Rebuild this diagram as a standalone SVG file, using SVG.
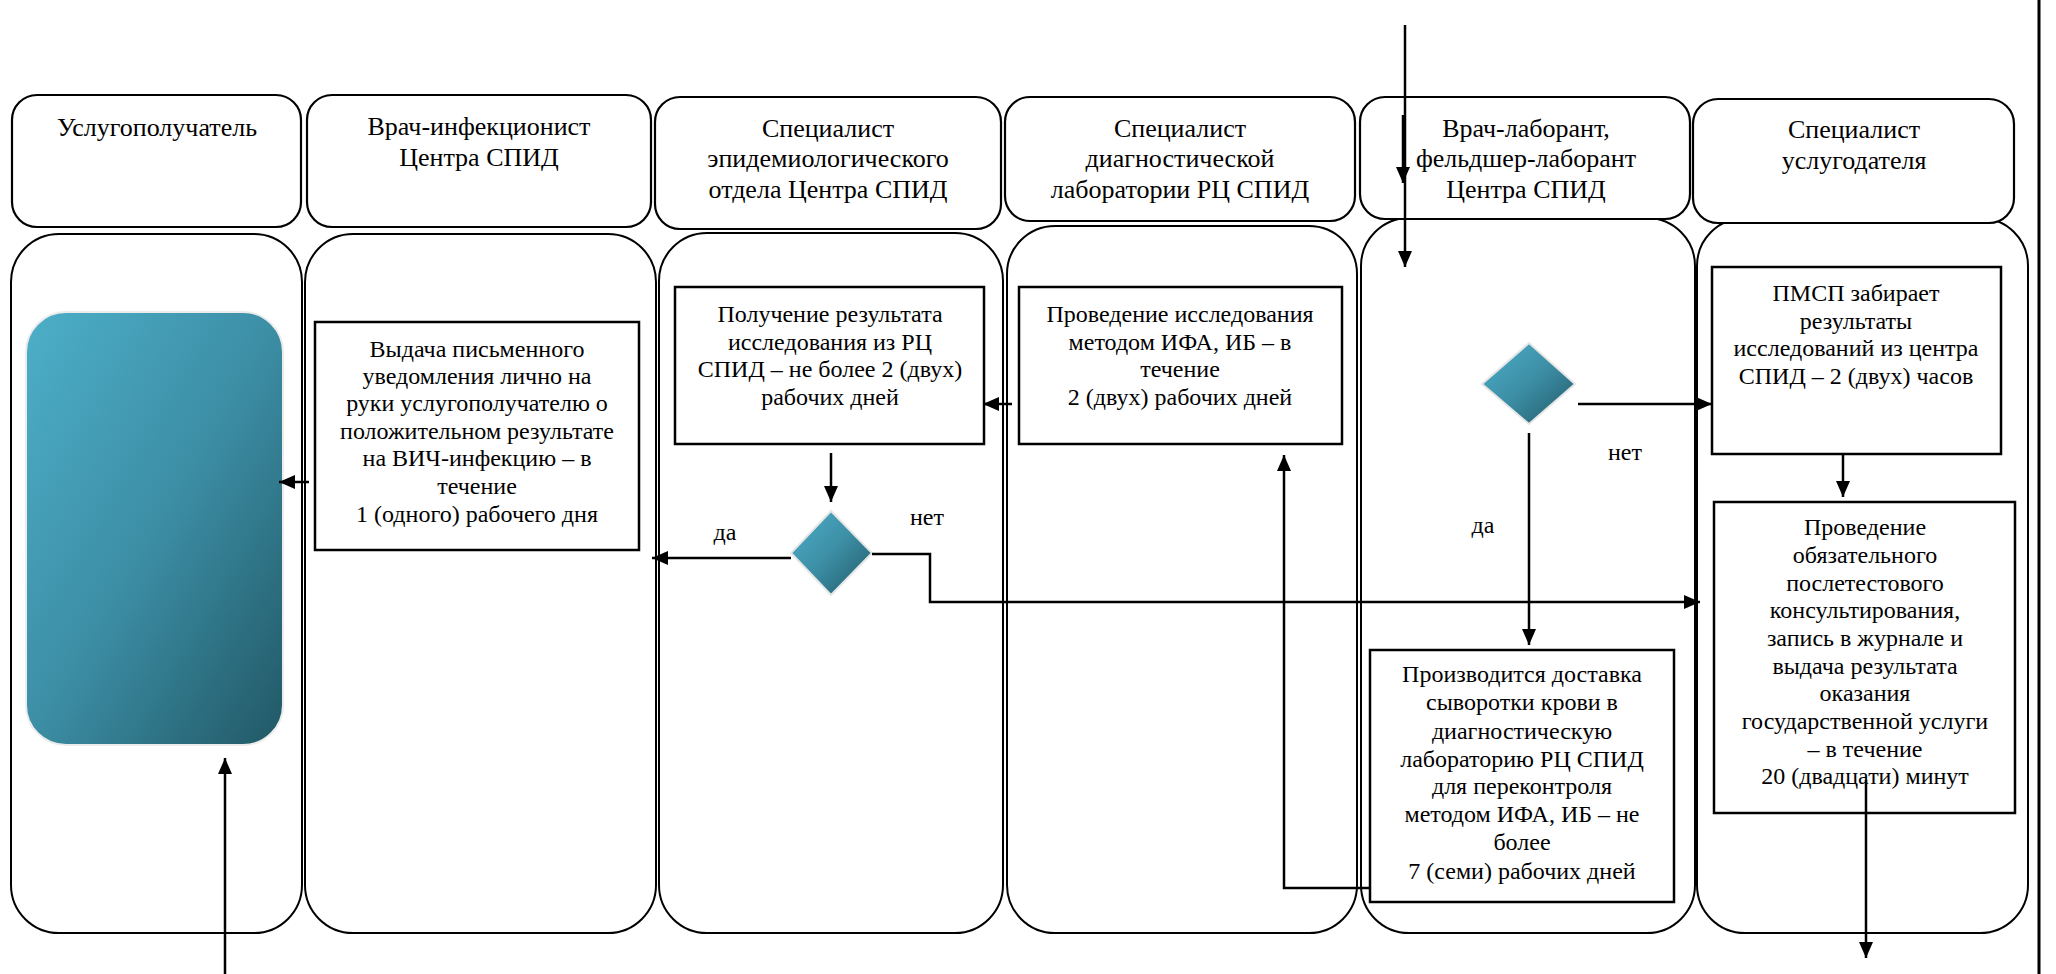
<svg xmlns="http://www.w3.org/2000/svg" width="2056" height="974" viewBox="0 0 2056 974">
<style>
.hdr{fill:#fff;stroke:#000;stroke-width:2.2}
.lane{fill:none;stroke:#000;stroke-width:2}
.box{fill:#fff;stroke:#000;stroke-width:2.5}
.conn{fill:none;stroke:#000;stroke-width:2.5}
.arr{marker-end:url(#ah)}
.dia{fill:url(#g);stroke:#e6e6e6;stroke-width:2}
</style>
<defs>
<linearGradient id="g" x1="0" y1="0" x2="1" y2="1">
<stop offset="0" stop-color="#4DAFC9"/>
<stop offset="0.5" stop-color="#3C8EA5"/>
<stop offset="1" stop-color="#215866"/>
</linearGradient>
<marker id="ah" viewBox="0 0 16 14" refX="16" refY="7" markerWidth="16" markerHeight="14" markerUnits="userSpaceOnUse" orient="auto">
<path d="M0,0 L16,7 L0,14 z" fill="#000"/>
</marker>
</defs>
<rect x="0" y="0" width="2056" height="974" fill="#fff"/>
<line x1="2039" y1="0" x2="2039" y2="974" stroke="#000" stroke-width="3"/>

<g id="lanes">
<rect class="lane" x="11" y="234" width="291" height="699" rx="48" ry="48"/>
<rect class="lane" x="305" y="234" width="351" height="699" rx="48" ry="48"/>
<rect class="lane" x="659" y="233" width="344" height="700" rx="48" ry="48"/>
<rect class="lane" x="1007" y="226" width="350" height="707" rx="48" ry="48"/>
<rect class="lane" x="1361" y="218" width="334" height="715" rx="48" ry="48"/>
<rect class="lane" x="1697" y="218" width="331" height="715" rx="48" ry="48"/>
</g>

<g font-family="Liberation Serif, DejaVu Serif, Noto Serif, serif" text-anchor="middle" fill="#000" font-size="24">
<g id="header1"><rect class="hdr" x="12" y="95" width="289" height="132" rx="25"/>
<text font-size="26" x="157" y="136">Услугополучатель</text></g>
<g id="header2"><rect class="hdr" x="307" y="95" width="344" height="132" rx="25"/>
<text font-size="26"><tspan x="479" y="135">Врач-инфекционист</tspan><tspan x="479" y="166">Центра СПИД</tspan></text></g>
<g id="header3"><rect class="hdr" x="655" y="97" width="346" height="132" rx="25"/>
<text font-size="26"><tspan x="828" y="137">Специалист</tspan><tspan x="828" y="167">эпидемиологического</tspan><tspan x="828" y="198">отдела Центра СПИД</tspan></text></g>
<g id="header4"><rect class="hdr" x="1005" y="97" width="350" height="124" rx="25"/>
<text font-size="26"><tspan x="1180" y="137">Специалист</tspan><tspan x="1180" y="167">диагностической</tspan><tspan x="1180" y="198">лаборатории РЦ СПИД</tspan></text></g>
<g id="header5"><rect class="hdr" x="1360" y="97" width="330" height="122" rx="25"/>
<text font-size="26"><tspan x="1526" y="137">Врач-лаборант,</tspan><tspan x="1526" y="167">фельдшер-лаборант</tspan><tspan x="1526" y="198">Центра СПИД</tspan></text></g>
<g id="header6"><rect class="hdr" x="1693" y="99" width="321" height="124" rx="25"/>
<text font-size="26"><tspan x="1854" y="138">Специалист</tspan><tspan x="1854" y="169">услугодателя</tspan></text></g>

<g id="client"><rect x="26" y="312" width="257" height="433" rx="40" ry="40" fill="url(#g)" stroke="#ececec" stroke-width="2"/></g>

<g id="box-vydacha"><rect class="box" x="315" y="322" width="324" height="228"/>
<text><tspan x="477" y="357">Выдача письменного</tspan><tspan x="477" y="384">уведомления лично на</tspan><tspan x="477" y="411">руки услугополучателю о</tspan><tspan x="477" y="439">положительном результате</tspan><tspan x="477" y="466">на ВИЧ-инфекцию – в</tspan><tspan x="477" y="494">течение</tspan><tspan x="477" y="522">1 (одного) рабочего дня</tspan></text></g>

<g id="box-poluchenie"><rect class="box" x="675" y="287" width="309" height="157"/>
<text><tspan x="830" y="322">Получение результата</tspan><tspan x="830" y="350">исследования из РЦ</tspan><tspan x="830" y="377">СПИД – не более 2 (двух)</tspan><tspan x="830" y="405">рабочих дней</tspan></text></g>

<g id="decision-epi"><polygon class="dia" points="831,511 872,553 831,595 791,553"/></g>

<g id="box-provedenie"><rect class="box" x="1019" y="287" width="323" height="157"/>
<text><tspan x="1180" y="322">Проведение исследования</tspan><tspan x="1180" y="350">методом ИФА, ИБ – в</tspan><tspan x="1180" y="377">течение</tspan><tspan x="1180" y="405">2 (двух) рабочих дней</tspan></text></g>

<g id="decision-lab"><polygon class="dia" points="1529,343 1575,384 1529,424 1482,384"/></g>

<g id="box-proizvoditsya"><rect class="box" x="1370" y="650" width="304" height="252"/>
<text><tspan x="1522" y="682">Производится доставка</tspan><tspan x="1522" y="710">сыворотки крови в</tspan><tspan x="1522" y="739">диагностическую</tspan><tspan x="1522" y="767">лабораторию РЦ СПИД</tspan><tspan x="1522" y="794">для переконтроля</tspan><tspan x="1522" y="822">методом ИФА, ИБ – не</tspan><tspan x="1522" y="850">более</tspan><tspan x="1522" y="879">7 (семи) рабочих дней</tspan></text></g>

<g id="box-pmsp"><rect class="box" x="1712" y="267" width="289" height="187"/>
<text><tspan x="1856" y="301">ПМСП забирает</tspan><tspan x="1856" y="329">результаты</tspan><tspan x="1856" y="356">исследований из центра</tspan><tspan x="1856" y="384">СПИД – 2 (двух) часов</tspan></text></g>

<g id="box-konsult"><rect class="box" x="1714" y="502" width="301" height="311"/>
<text><tspan x="1865" y="535">Проведение</tspan><tspan x="1865" y="563">обязательного</tspan><tspan x="1865" y="591">послетестового</tspan><tspan x="1865" y="618">консультирования,</tspan><tspan x="1865" y="646">запись в журнале и</tspan><tspan x="1865" y="674">выдача результата</tspan><tspan x="1865" y="701">оказания</tspan><tspan x="1865" y="729">государственной услуги</tspan><tspan x="1865" y="757">– в течение</tspan><tspan x="1865" y="784">20 (двадцати) минут</tspan></text></g>

<g id="labels">
<text x="725" y="540">да</text>
<text x="927" y="525">нет</text>
<text x="1483" y="533">да</text>
<text x="1625" y="460">нет</text>
</g>
</g>

<g id="connectors">
<line class="conn arr" x1="1405" y1="25" x2="1405" y2="267"/>
<line class="conn arr" x1="1403" y1="115" x2="1403" y2="183"/>
<line class="conn arr" x1="1578" y1="404" x2="1712" y2="404"/>
<line class="conn arr" x1="1529" y1="433" x2="1529" y2="645"/>
<polyline class="conn arr" points="1370,888 1284,888 1284,455"/>
<line class="conn arr" x1="1012" y1="404" x2="983" y2="404"/>
<line class="conn arr" x1="831" y1="453" x2="831" y2="502"/>
<line class="conn arr" x1="791" y1="558" x2="652" y2="558"/>
<polyline class="conn arr" points="872,554 930,554 930,602 1700,602"/>
<line class="conn arr" x1="1843" y1="454" x2="1843" y2="497"/>
<line class="conn arr" x1="1866" y1="780" x2="1866" y2="958"/>
<line class="conn arr" x1="309" y1="482" x2="279" y2="482"/>
<line class="conn arr" x1="225" y1="974" x2="225" y2="758"/>
</g>
</svg>
